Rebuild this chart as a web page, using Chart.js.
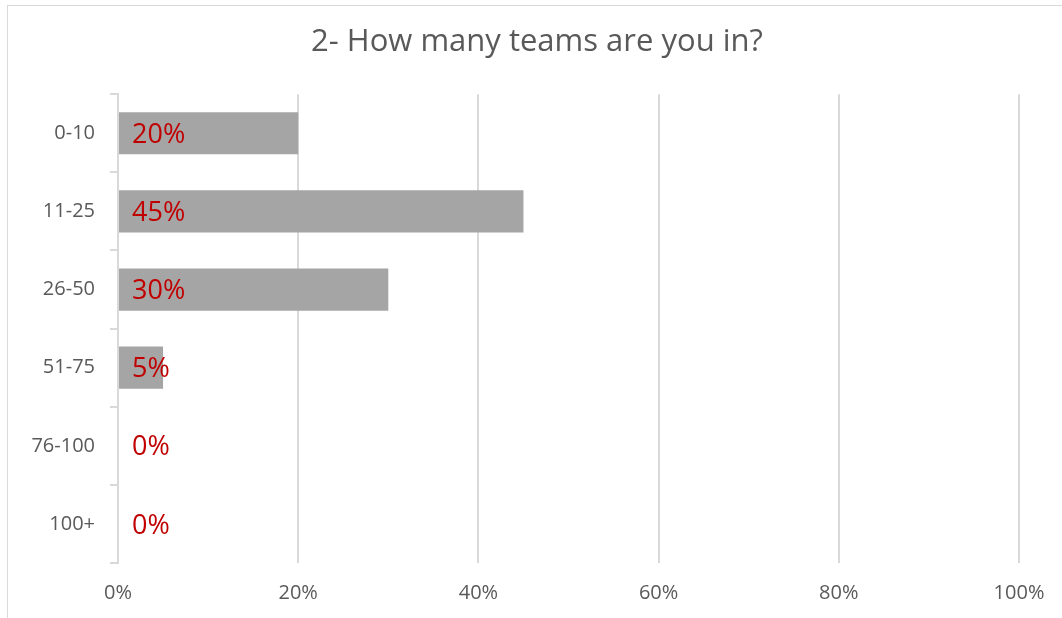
<!DOCTYPE html>
<html>
<head>
<meta charset="utf-8">
<script src="https://cdn.jsdelivr.net/npm/chart.js@4.4.1/dist/chart.umd.min.js"></script>
<style>
  body { margin: 0; background: #fff; }
  #wrap { position: relative; width: 1062px; height: 618px; }
  #frame { position: absolute; left: 7px; top: 5px; width: 1070px; height: 640px; border: 1px solid #D9D9D9; box-sizing: border-box; }
  canvas { position: absolute; left: 0; top: 0; }
</style>
</head>
<body>
<div id="wrap">
  <div id="frame"></div>
  <canvas id="teams" width="1062" height="618"></canvas>
</div>
<script>
const categories = ['0-10', '11-25', '26-50', '51-75', '76-100', '100+']
const shares = [20, 45, 30, 5, 0, 0]
const xTicks = [0, 20, 40, 60, 80, 100]

// red percentage labels at the start of every bar
const barLabels = {
  id: 'barLabels',
  afterDatasetsDraw(chart) {
    const ctx = chart.ctx
    const x = chart.scales.x
    const y = chart.scales.y
    ctx.save()
    ctx.fillStyle = '#C00000'
    ctx.font = '27px "Open Sans", sans-serif'
    ctx.textBaseline = 'middle'
    ctx.textAlign = 'left'
    shares.forEach(function (v, i) {
      ctx.fillText(v + '%', x.getPixelForValue(0) + 14, y.getPixelForValue(i) + 2)
    })
    ctx.restore()
  }
}

new Chart(document.getElementById('teams'), {
  type: 'bar',
  data: {
    labels: categories,
    datasets: [{
      data: shares,
      backgroundColor: '#A5A5A5',
      categoryPercentage: 1,
      barPercentage: 0.54
    }]
  },
  options: {
    indexAxis: 'y',
    responsive: false,
    animation: false,
    layout: { padding: { left: 12 } },
    plugins: {
      legend: { display: false },
      tooltip: { enabled: false },
      title: {
        display: true,
        text: '2- How many teams are you in?',
        color: '#595959',
        font: { family: '"Open Sans", sans-serif', size: 31, weight: 'normal' },
        padding: { top: 24, bottom: 33 }
      }
    },
    scales: {
      x: {
        min: 0,
        max: 100,
        afterBuildTicks: function (s) { s.ticks = xTicks.map(v => ({ value: v })) },
        afterFit: function (s) { s.height = 55; s.paddingRight = 43 },
        grid: { color: '#D9D9D9', lineWidth: 2, drawTicks: false },
        border: { display: false },
        ticks: {
          color: '#595959',
          padding: 18,
          font: { family: '"Open Sans", sans-serif', size: 20 },
          callback: v => v + '%'
        }
      },
      y: {
        afterFit: function (s) { s.width = 106 },
        grid: { drawOnChartArea: false, color: '#D9D9D9', lineWidth: 2, tickLength: 8 },
        border: { color: '#D9D9D9', width: 2 },
        ticks: {
          color: '#595959',
          padding: 15,
          font: { family: '"Open Sans", sans-serif', size: 20 }
        }
      }
    }
  },
  plugins: [barLabels]
})
</script>
</body>
</html>
